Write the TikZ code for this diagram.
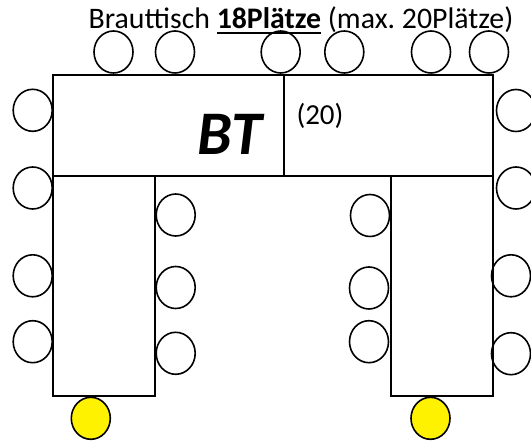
\documentclass[tikz,border=0pt]{standalone}
\usepackage{fontspec}
\setmainfont{Carlito}
\usetikzlibrary{shapes.geometric}
\newcommand\myuline[1]{\setbox0\hbox{#1}\rlap{\rule[-6pt]{\wd0}{2pt}}\box0}
\begin{document}
\frenchspacing
\begin{tikzpicture}[x=1pt,y=-1pt,
  tableline/.style={draw=black,line width=2pt},
  chair/.style={ellipse,draw=black,line width=1.6pt,minimum width=39pt,minimum height=42pt,inner sep=0pt},
  guest/.style={chair,fill=yellow},
  lbl/.style={inner sep=0pt,anchor=base}]
\useasboundingbox (0,0) rectangle (531,446);
\clip (0,0) rectangle (531,446);
% tables
\draw[tableline] (53.3,75) rectangle (493,176.5);
\draw[tableline] (284.3,75) -- (284.3,176.5);
\draw[tableline] (53.3,176.5) rectangle (155.3,396);
\draw[tableline] (391,176.5) rectangle (493,396);
% top chairs
\node[chair] (t1) at (113.5,52) {};
\node[chair] (t2) at (175,52) {};
\node[chair] (t3) at (280.7,52) {};
\node[chair] (t4) at (344.3,52) {};
\node[chair] (t5) at (431,52) {};
\node[chair] (t6) at (489,52) {};
% left outer
\node[chair] (l1) at (32.7,110.3) {};
\node[chair] (l2) at (32.7,188) {};
\node[chair] (l3) at (32.7,275.8) {};
\node[chair] (l4) at (32.7,341.7) {};
% right outer
\node[chair] (r1) at (516,110.5) {};
\node[chair] (r2) at (516,188) {};
\node[chair] (r3) at (511,275.8) {};
\node[chair] (r4) at (511,353.7) {};
% left leg, inner side
\node[chair] (a1) at (175.7,215) {};
\node[chair] (a2) at (175.7,287.5) {};
\node[chair] (a3) at (175.7,353.3) {};
% right leg, inner side
\node[chair] (b1) at (370,215.5) {};
\node[chair] (b2) at (369,288) {};
\node[chair] (b3) at (369,341.7) {};
% yellow chairs
\node[guest] (y1) at (90.8,418.3) {};
\node[guest] (y2) at (430.5,418.3) {};
% texts
\node[lbl,font=\fontsize{29.8}{35}\selectfont] (title) at (301,28.3)
  {Brauttisch \textbf{\myuline{18Plätze}} (max.\ 20Plätze)};
\node[lbl,font=\fontsize{62}{70}\selectfont\bfseries\itshape] (bt) at (230,155) {BT};
\node[lbl,font=\fontsize{29}{35}\selectfont] (twenty) at (320,124.5) {(20)};
\end{tikzpicture}
\end{document}
